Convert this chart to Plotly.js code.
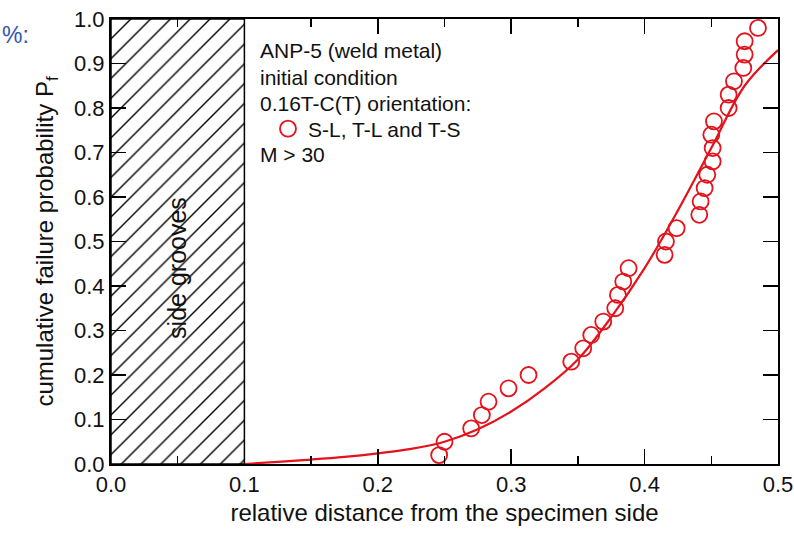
<!DOCTYPE html>
<html>
<head>
<meta charset="utf-8">
<script src="https://cdn.plot.ly/plotly-3.0.1.min.js"></script>
<style>html,body{margin:0;padding:0;background:#fff;}#chart{width:794px;height:539px;}</style>
</head>
<body>
<div id="chart"></div>
<script>
// measured data (relative distance, cumulative failure probability)
var measX = [0.246, 0.250, 0.270, 0.278, 0.283, 0.298, 0.313, 0.345, 0.354, 0.360, 0.369,
             0.378, 0.380, 0.384, 0.388, 0.415, 0.416, 0.424, 0.441, 0.442, 0.445, 0.447,
             0.451, 0.451, 0.450, 0.452, 0.463, 0.463, 0.467, 0.474, 0.475, 0.475, 0.485];
var measPf = [0.02, 0.05, 0.08, 0.11, 0.14, 0.17, 0.20, 0.23, 0.26, 0.29, 0.32,
              0.35, 0.38, 0.41, 0.44, 0.47, 0.50, 0.53, 0.56, 0.59, 0.62, 0.65,
              0.68, 0.71, 0.74, 0.77, 0.80, 0.83, 0.86, 0.89, 0.92, 0.95, 0.98];
// fitted curve
var fitX = [0.100, 0.125, 0.150, 0.175, 0.200, 0.225, 0.250, 0.275, 0.300, 0.325, 0.350,
            0.375, 0.400, 0.425, 0.450, 0.475, 0.500];
var fitPf = [0.000, 0.005, 0.010, 0.016, 0.024, 0.034, 0.050, 0.078, 0.118, 0.170, 0.235,
             0.330, 0.440, 0.570, 0.710, 0.850, 0.930];
// side groove zone
var grooveX = [0.05];
var grooveW = [0.1];
var grooveTop = [1.0];
var annoLines = ["ANP-5 (weld metal)", "initial condition", "0.16T-C(T) orientation:", "M > 30"];
var legendName = "S-L, T-L and T-S";

var RED = "#e3121b";
var FONT = "Arial, 'Liberation Sans', sans-serif";
var L = 111, R = 16, T = 19, B = 75, W = 794, H = 539;
var PW = W - L - R, PH = H - T - B;
function px2paperX(px) { return (px - L) / PW; }
function px2paperY(py) { return (H - B - py) / PH; }

var traces = [
  {
    type: "bar", x: grooveX, y: grooveTop, width: grooveW, showlegend: false, hoverinfo: "skip",
    marker: {color: "#ffffff", line: {color: "#000000", width: 1.5},
             pattern: {shape: "/", fgcolor: "#000000", bgcolor: "#ffffff", size: 14, solidity: 0.1}}
  },
  {
    type: "scatter", mode: "lines", x: fitX, y: fitPf, showlegend: false,
    line: {color: RED, width: 2.2, shape: "spline", smoothing: 1.0}
  },
  {
    type: "scatter", mode: "markers", x: measX, y: measPf, name: legendName,
    marker: {symbol: "circle-open", size: 16, color: RED, line: {color: RED, width: 1.8}}
  }
];

var annotations = [];
var lineY = [50, 77, 103, 155];
for (var i = 0; i < annoLines.length; i++) {
  annotations.push({
    text: annoLines[i], xref: "paper", yref: "paper",
    x: px2paperX(258), y: px2paperY(lineY[i]),
    xanchor: "left", yanchor: "middle", showarrow: false,
    font: {family: FONT, size: 21, color: "#111"}
  });
}
annotations.push({
  text: "side grooves", xref: "x", yref: "y", x: 0.05, y: 0.44, textangle: -90,
  showarrow: false, font: {family: FONT, size: 25, color: "#111"}
});
annotations.push({
  text: "%:", xref: "paper", yref: "paper", x: px2paperX(0), y: px2paperY(35),
  xanchor: "left", yanchor: "middle", showarrow: false,
  font: {family: FONT, size: 23, color: "#2f56b0"}
});

var layout = {
  width: W, height: H,
  margin: {l: L, r: R, t: T, b: B, pad: 0},
  paper_bgcolor: "#ffffff", plot_bgcolor: "#ffffff",
  font: {family: FONT, size: 22, color: "#111"},
  bargap: 0,
  showlegend: true,
  legend: {x: px2paperX(268), y: px2paperY(129), xanchor: "left", yanchor: "middle",
           bgcolor: "rgba(0,0,0,0)", font: {family: FONT, size: 21, color: "#111"}},
  xaxis: {
    range: [0, 0.5], dtick: 0.1, tick0: 0, tickformat: ".1f",
    ticks: "inside", ticklen: 15, tickwidth: 1.5, tickcolor: "#000",
    minor: {dtick: 0.05, ticks: "inside", ticklen: 8, tickwidth: 1.5, tickcolor: "#000"},
    showline: true, linecolor: "#000", linewidth: 2, mirror: "ticks",
    showgrid: false, zeroline: false,
    tickfont: {family: FONT, size: 22, color: "#111"},
    title: {text: "relative distance from the specimen side", standoff: 8,
            font: {family: FONT, size: 24, color: "#111"}}
  },
  yaxis: {
    range: [0, 1], dtick: 0.1, tick0: 0, tickformat: ".1f",
    ticks: "inside", ticklen: 15, tickwidth: 1.5, tickcolor: "#000",
    showline: true, linecolor: "#000", linewidth: 2, mirror: "ticks",
    showgrid: false, zeroline: false,
    tickfont: {family: FONT, size: 22, color: "#111"},
    title: {text: "cumulative failure probability P<sub>f</sub>", standoff: 14,
            font: {family: FONT, size: 24, color: "#111"}}
  },
  annotations: annotations
};

Plotly.newPlot("chart", traces, layout, {staticPlot: true, displayModeBar: false});
</script>
</body>
</html>
